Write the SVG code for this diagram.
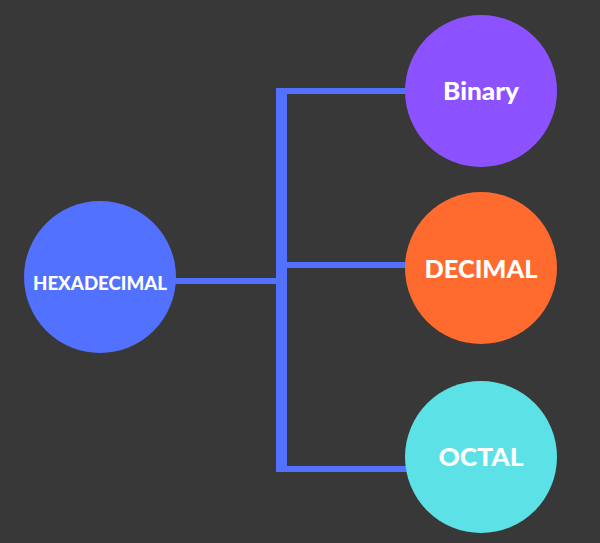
<svg xmlns="http://www.w3.org/2000/svg" width="600" height="543" viewBox="0 0 600 543">
<style>
.lbl{font-family:"Lato","Liberation Sans",sans-serif;font-weight:900;fill:#ffffff;text-anchor:middle;dominant-baseline:central}
.ln{fill:#5271FF}
</style>
<rect width="600" height="543" fill="#383838"/>
<g id="connectors">
<rect class="ln" x="276" y="88" width="11" height="380"/>
<rect class="ln" x="276" y="88" width="132" height="6"/>
<rect class="ln" x="287" y="262" width="121" height="6"/>
<rect class="ln" x="276" y="466" width="132" height="6"/>
<rect class="ln" x="170" y="278" width="117" height="6"/>
</g>
<g id="hexadecimal">
<circle cx="100" cy="277" r="76" fill="#5271FF"/>
<text class="lbl" x="100" y="283" font-size="18.5" textLength="134" lengthAdjust="spacingAndGlyphs">HEXADECIMAL</text>
</g>
<g id="binary">
<circle cx="481" cy="91" r="76" fill="#8C52FF"/>
<text class="lbl" x="481" y="90" font-size="25" textLength="76" lengthAdjust="spacingAndGlyphs">Binary</text>
</g>
<g id="decimal">
<circle cx="481" cy="268" r="76" fill="#FF6A2E"/>
<text class="lbl" x="481" y="268" font-size="25" textLength="113" lengthAdjust="spacingAndGlyphs">DECIMAL</text>
</g>
<g id="octal">
<circle cx="481" cy="457" r="76" fill="#5CE1E6"/>
<text class="lbl" x="481" y="456" font-size="25" textLength="85" lengthAdjust="spacingAndGlyphs">OCTAL</text>
</g>
</svg>
